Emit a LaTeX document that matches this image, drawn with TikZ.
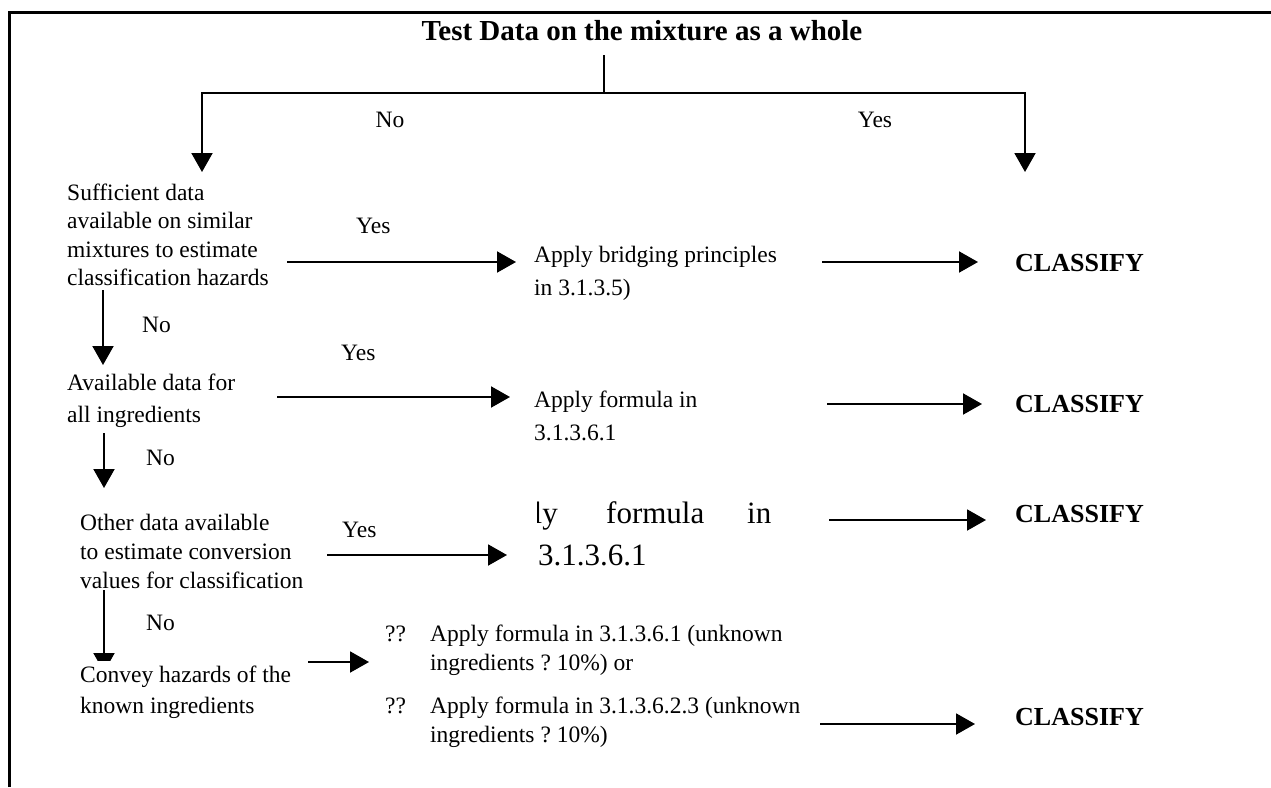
\documentclass[tikz,border=0pt]{standalone}
\usepackage{fontspec}
\setmainfont{Liberation Serif}
\usetikzlibrary{arrows.meta}
\newcommand\lines[1]{\begin{tabular}[t]{@{}l@{}}#1\end{tabular}}
\begin{document}
\begin{tikzpicture}[x=1pt,y=-1pt,
  arr/.style={line width=2pt,-{Triangle[length=19pt,width=21pt]}},
  ln/.style={line width=2pt},
  frame/.style={line width=3pt},
  body/.style={font=\fontsize{23.5}{28.5}\selectfont, inner sep=0pt, anchor=base west},
  lbl/.style={font=\fontsize{23.5}{28.5}\selectfont, inner sep=0pt, anchor=base west},
  cls/.style={font=\fontsize{26}{30}\selectfont\bfseries, inner sep=0pt, anchor=base west},
  big/.style={font=\fontsize{31}{42}\selectfont, inner sep=0pt, anchor=base west},
  titlef/.style={font=\fontsize{29}{34}\selectfont\bfseries, inner sep=0pt, anchor=base}
]
\useasboundingbox (0,0) rectangle (1271,787);
% frame
\coordinate (ftl) at (9.5,12.5);
\coordinate (ftr) at (1271,12.5);
\coordinate (fbl) at (9.5,787);
\draw[frame] (fbl) -- (ftl) -- (ftr);

% title
\node[titlef] (title) at (642,40) {Test Data on the mixture as a whole};
\coordinate (ttop) at (604,55);
\coordinate (split) at (604,93);
\coordinate (noend) at (202,172);
\coordinate (yesend) at (1025,172);
\draw[ln] (ttop) -- (split);
\draw[arr] (split) -| (noend);
\draw[arr] (split) -| (yesend);
\node[lbl, anchor=base] (no0) at (390,127) {No};
\node[lbl, anchor=base] (yes0) at (875,127) {Yes};

% row 1
\node[body] (suff) at (67,200) {\lines{Sufficient data\\available on similar\\mixtures to estimate\\classification hazards}};
\node[lbl] (yes1) at (356,233) {Yes};
\coordinate (a1s) at (287,262);
\coordinate (a1e) at (516,262);
\draw[arr] (a1s) -- (a1e);
\node[body, font=\fontsize{23.5}{33}\selectfont] (bridge) at (534,262) {\lines{Apply bridging principles\\in 3.1.3.5)}};
\coordinate (b1s) at (822,262);
\coordinate (b1e) at (978,262);
\draw[arr] (b1s) -- (b1e);
\node[cls] (cls1) at (1015,271) {CLASSIFY};

% row 2
\coordinate (v2s) at (103,290);
\coordinate (v2e) at (103,365);
\draw[arr] (v2s) -- (v2e);
\node[lbl] (no2) at (142,332) {No};
\node[lbl] (yes2) at (341,360) {Yes};
\node[body, font=\fontsize{23.5}{32}\selectfont] (avail) at (67,390) {\lines{Available data for\\all ingredients}};
\coordinate (a2s) at (277,397);
\coordinate (a2e) at (510,397);
\draw[arr] (a2s) -- (a2e);
\node[body, font=\fontsize{23.5}{33}\selectfont] (form1) at (534,407) {\lines{Apply formula in\\3.1.3.6.1}};
\coordinate (b2s) at (827,404);
\coordinate (b2e) at (982,404);
\draw[arr] (b2s) -- (b2e);
\node[cls] (cls2) at (1015,412) {CLASSIFY};

% row 3
\coordinate (v3s) at (104,433);
\coordinate (v3e) at (104,488);
\draw[arr] (v3s) -- (v3e);
\node[lbl] (no3) at (146,465) {No};
\node[body, font=\fontsize{23.5}{29}\selectfont] (other) at (80,530) {\lines{Other data available\\to estimate conversion\\values for classification}};
\node[lbl] (yes3) at (342,537) {Yes};
\coordinate (a3s) at (327,555);
\coordinate (a3e) at (507,555);
\draw[arr] (a3s) -- (a3e);
\begin{scope}
\clip (537,480) rectangle (600,540);
\node[big, anchor=base east] (bigapply) at (558,523) {Apply};
\end{scope}
\node[big] (bigformula) at (606,523) {formula};
\node[big] (bigin) at (747,523) {in};
\node[big] (bignum) at (538,565) {3.1.3.6.1};
\coordinate (b3s) at (829,520);
\coordinate (b3e) at (986,520);
\draw[arr] (b3s) -- (b3e);
\node[cls] (cls3) at (1015,522) {CLASSIFY};

% row 4
\coordinate (v4s) at (104,590);
\coordinate (v4e) at (104,672);
\begin{scope}
\clip (60,585) rectangle (150,660);
\draw[arr] (v4s) -- (v4e);
\end{scope}
\node[lbl] (no4) at (146,630) {No};
\node[body, font=\fontsize{23.5}{31}\selectfont] (convey) at (80,682) {\lines{Convey hazards of the\\known ingredients}};
\coordinate (a4s) at (308,662);
\coordinate (a4e) at (369,662);
\draw[arr] (a4s) -- (a4e);
\node[lbl] (q1) at (385,641) {??};
\node[body, font=\fontsize{23.5}{29}\selectfont] (opt1) at (430,641) {\lines{Apply formula in 3.1.3.6.1 (unknown\\ingredients ?\ 10\%) or}};
\node[lbl] (q2) at (385,713) {??};
\node[body, font=\fontsize{23.5}{29}\selectfont] (opt2) at (430,713) {\lines{Apply formula in 3.1.3.6.2.3 (unknown\\ingredients ?\ 10\%)}};
\coordinate (b4s) at (820,724);
\coordinate (b4e) at (975,724);
\draw[arr] (b4s) -- (b4e);
\node[cls] (cls4) at (1015,725) {CLASSIFY};
\end{tikzpicture}
\end{document}
